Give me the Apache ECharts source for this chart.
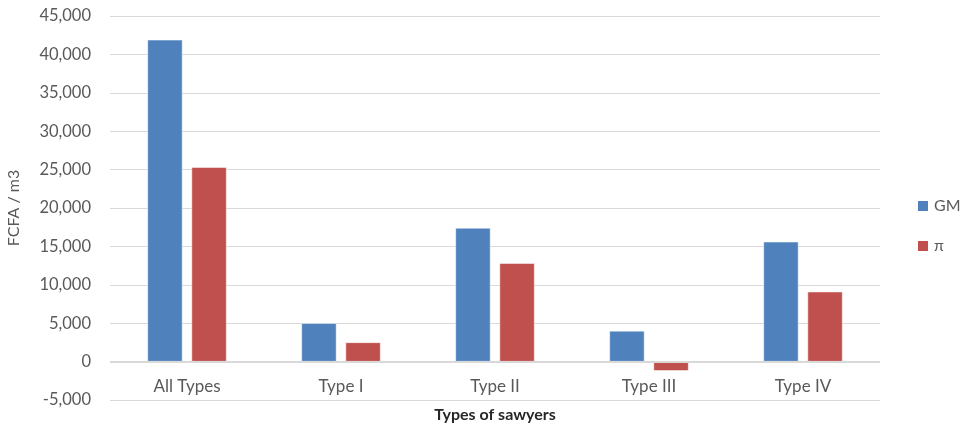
<!DOCTYPE html>
<html>
<head>
<meta charset="utf-8">
<script src="https://cdn.jsdelivr.net/npm/echarts@6/dist/echarts.min.js"></script>
<style>
  html, body { margin: 0; padding: 0; background: #fff; }
  #chart { width: 961px; height: 427px; }
</style>
</head>
<body>
<div id="chart"></div>
<script>
// Sawyer categories and margins per cubic metre (FCFA)
const categories = ['All Types', 'Type I', 'Type II', 'Type III', 'Type IV'];
const gmValues = [41900, 5000, 17400, 4000, 15600];
const piValues = [25300, 2500, 12800, -1200, 9100];
const seriesNames = ['GM', 'π'];

const font = 'Lato, "Open Sans", sans-serif';
const textColor = '#595959';
const gridColor = '#d9d9d9';

const chart = echarts.init(document.getElementById('chart'), null, { renderer: 'canvas' });
chart.setOption({
  animation: false,
  textStyle: { fontFamily: font },
  grid: { left: 110, right: 81, top: 16, bottom: 27, containLabel: false, outerBoundsMode: 'none' },
  legend: {
    orient: 'vertical',
    left: 911,
    top: 193,
    itemWidth: 12,
    itemHeight: 12,
    itemGap: 24,
    icon: 'rect',
    textStyle: { fontFamily: font, fontSize: 16, color: textColor },
    data: seriesNames
  },
  xAxis: {
    type: 'category',
    data: categories,
    name: 'Types of sawyers',
    nameLocation: 'middle',
    nameGap: 7,
    nameTextStyle: { fontFamily: font, fontSize: 16, fontWeight: 'bold', color: '#262626' },
    axisLine: { show: false, onZero: false },
    axisTick: { show: false },
    // category labels sit just under the zero line, inside the plot
    axisLabel: { fontFamily: font, fontSize: 17, color: textColor, margin: -22 }
  },
  yAxis: {
    type: 'value',
    min: -5000,
    max: 45000,
    interval: 5000,
    name: 'FCFA / m3',
    nameLocation: 'middle',
    nameGap: 88,
    nameRotate: 90,
    nameTextStyle: { fontFamily: font, fontSize: 16, color: textColor },
    axisLine: { show: false },
    axisTick: { show: false },
    splitLine: { lineStyle: { color: gridColor, width: 1 } },
    axisLabel: {
      fontFamily: font,
      fontSize: 16.5,
      color: textColor,
      margin: 19,
      formatter: v => v.toLocaleString('en-US')
    }
  },
  series: [
    {
      name: seriesNames[0],
      type: 'bar',
      data: gmValues,
      barWidth: 35,
      barGap: '26%',
      itemStyle: { color: '#4F81BD', borderColor: '#ffffff', borderWidth: 0.5 },
      markLine: {
        silent: true,
        symbol: 'none',
        label: { show: false },
        lineStyle: { color: gridColor, width: 2, type: 'solid' },
        data: [{ yAxis: 0 }]
      }
    },
    {
      name: seriesNames[1],
      type: 'bar',
      data: piValues,
      barWidth: 35,
      barGap: '26%',
      itemStyle: { color: '#C0504D', borderColor: '#ffffff', borderWidth: 0.5 }
    }
  ]
});
</script>
</body>
</html>
